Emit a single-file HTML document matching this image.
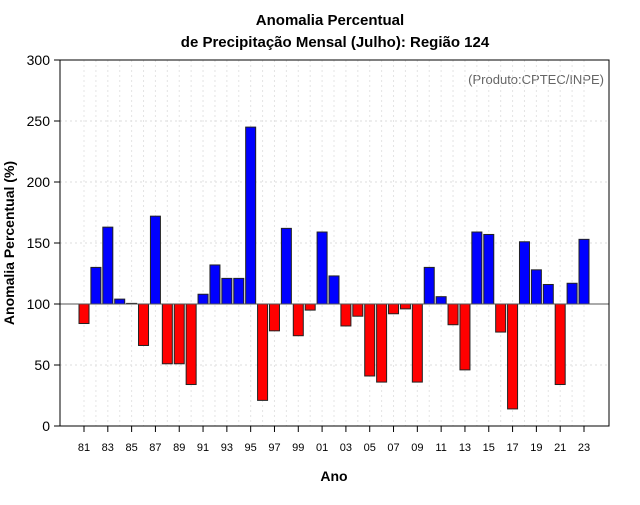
<!DOCTYPE html>
<html><head><meta charset="utf-8"><style>
body{margin:0;background:#fff}
svg text{font-family:"Liberation Sans",sans-serif}
</style></head><body>
<svg id="c" width="640" height="500" xmlns="http://www.w3.org/2000/svg">
<text x="330" y="25" text-anchor="middle" font-size="15" font-weight="bold">Anomalia Percentual</text>
<text x="335" y="47" text-anchor="middle" font-size="15" font-weight="bold">de Precipitação Mensal (Julho): Região 124</text>
<text x="334" y="481" text-anchor="middle" font-size="14" font-weight="bold">Ano</text>
<text transform="translate(14,243) rotate(-90)" text-anchor="middle" font-size="14" font-weight="bold">Anomalia Percentual (%)</text>
<text x="604" y="84" text-anchor="end" font-size="13" fill="#666">(Produto:CPTEC/INPE)</text>
<g id="grid"></g><g id="bars"></g><g id="axes"></g>
<rect x="60" y="60" width="549" height="366" fill="none" stroke="#000"/>
</svg>
<script>
const years=[81,82,83,84,85,86,87,88,89,90,91,92,93,94,95,96,97,98,99,0,1,2,3,4,5,6,7,8,9,10,11,12,13,14,15,16,17,18,19,20,21,22,23];
const values=[84,130,163,104,100.5,66,172,51,51,34,108,132,121,121,245,21,78,162,74,95,159,123,82,90,41,36,92,96,36,130,106,83,46,159,157,77,14,151,128,116,34,117,153];
const yTicks=[0,50,100,150,200,250,300];
const NS="http://www.w3.org/2000/svg";
const X0=60,X1=609,Y0=426,Y1=60;
const y=v=>Y0-(v/300)*(Y0-Y1);
const step=500/42;
const x=i=>84+i*step;
function mk(t,a,p){const e=document.createElementNS(NS,t);for(const k in a)e.setAttribute(k,a[k]);document.getElementById(p).appendChild(e);return e;}
yTicks.forEach(t=>{
 if(t>0&&t<300){const g=mk('line',{x1:X0,x2:X1,y1:y(t),y2:y(t),stroke:'#ddd','stroke-dasharray':'2,3'},'grid');
 
 }
 const tk=mk('line',{x1:X0-6,x2:X0,y1:y(t),y2:y(t),stroke:'#000'},'axes');
 
 
 const l=mk('text',{x:X0-10,y:y(t)+5,'text-anchor':'end','font-size':'14'},'axes');l.textContent=t;
 
 
});
years.forEach((yr,i)=>{
 const g=mk('line',{x1:x(i),x2:x(i),y1:Y1,y2:Y0,stroke:'#e4e4e4','stroke-dasharray':'2,3'},'grid');
 
 
 const v=values[i];
 const top=Math.min(y(v),y(100)),h=Math.abs(y(v)-y(100));
 const b=mk('rect',{x:x(i)-5,y:top,width:10,height:Math.max(h,0.5),fill:v>=100?'#0000ff':'#ff0000',stroke:'#222','stroke-width':'1'},'bars');
 
 
 if(i%2==0){
  const tk=mk('line',{x1:x(i),x2:x(i),y1:Y0,y2:Y0+6,stroke:'#000'},'axes');
  
  
  const l=mk('text',{x:x(i),y:Y0+25,'text-anchor':'middle','font-size':'11'},'axes');l.textContent=String(yr).padStart(2,'0');
  
  
 }
});
const bl=mk('line',{x1:X0,x2:X1,y1:y(100),y2:y(100),stroke:'#555'},'bars');


</script>
</body></html>
